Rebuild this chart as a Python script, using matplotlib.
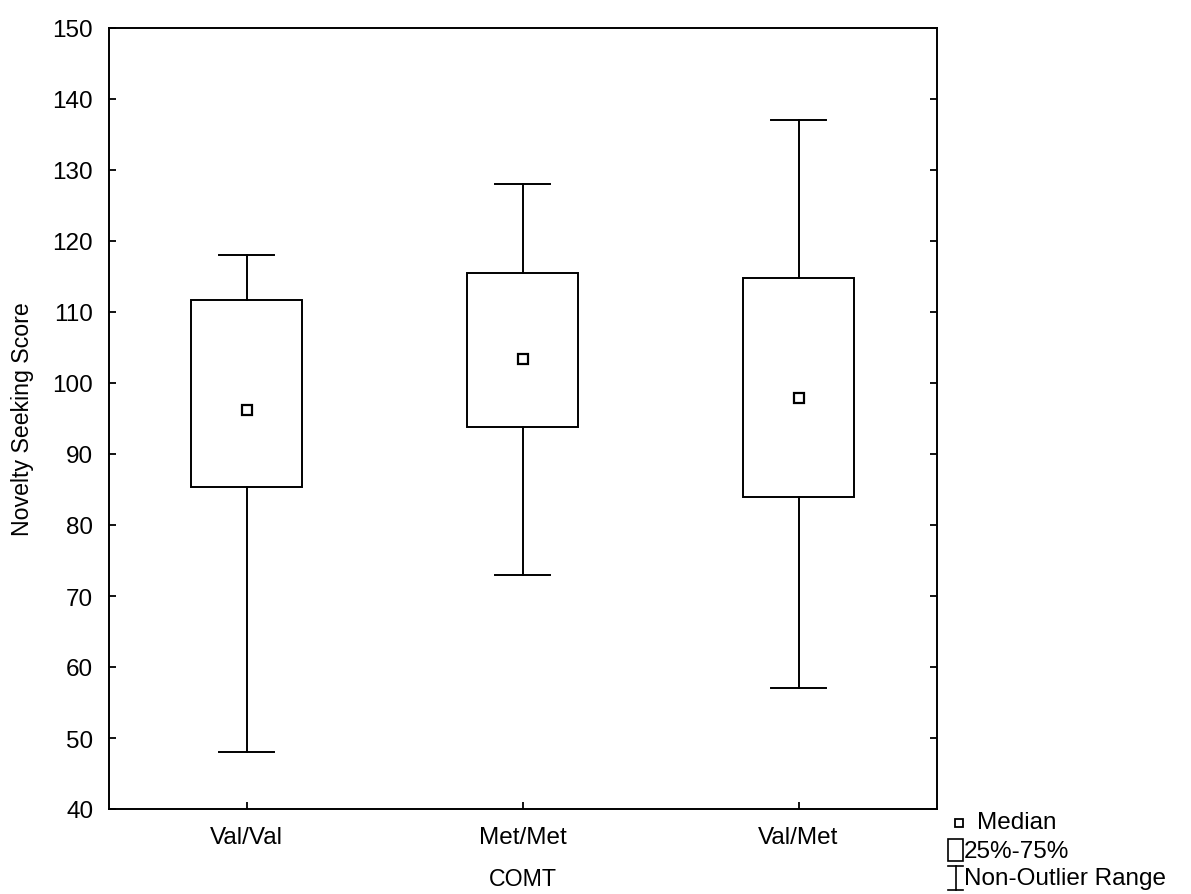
import matplotlib
matplotlib.use("Agg")
import matplotlib.pyplot as plt
from matplotlib.lines import Line2D
from matplotlib.patches import Rectangle

# Summary statistics per COMT genotype
groups = ["Val/Val", "Met/Met", "Val/Met"]
whisker_low = [48, 73, 57]
q1 = [85.4, 93.8, 83.9]
median = [96.2, 103.4, 97.9]
q3 = [111.7, 115.5, 114.8]
whisker_high = [118, 128, 137]

y_ticks = [40, 50, 60, 70, 80, 90, 100, 110, 120, 130, 140, 150]

plt.rcParams["font.family"] = ["Liberation Sans", "DejaVu Sans"]

W, H = 1191, 895
tick_fs = 17.5
label_fs = 16.7
legend_fs = 17.5

fig = plt.figure(figsize=(W / 100, H / 100), dpi=100)
ax = fig.add_axes([108.5 / W, 1 - 810 / H, (936.5 - 108.5) / W, (810 - 29) / H])

lw = 1.4
box_w = 0.4
cap_w = 0.2
for i, g in enumerate(groups):
    x = i + 1
    ax.add_patch(Rectangle((x - box_w / 2, q1[i]), box_w, q3[i] - q1[i],
                           facecolor="white", edgecolor="black", lw=lw, zorder=2))
    ax.plot([x, x], [q3[i], whisker_high[i]], color="black", lw=lw, zorder=2)
    ax.plot([x, x], [whisker_low[i], q1[i]], color="black", lw=lw, zorder=2)
    ax.plot([x - cap_w / 2, x + cap_w / 2], [whisker_high[i]] * 2, color="black", lw=lw, zorder=2)
    ax.plot([x - cap_w / 2, x + cap_w / 2], [whisker_low[i]] * 2, color="black", lw=lw, zorder=2)
    ax.plot([x], [median[i]], marker="s", ms=6.5, mfc="white", mec="black", mew=1.6,
            linestyle="none", zorder=3)

ax.set_xlim(0.5, 3.5)
ax.set_ylim(40, 150)
ax.set_xticks([1, 2, 3])
ax.set_xticklabels(groups)
ax.set_yticks(y_ticks)
ax.tick_params(axis="both", direction="in", length=5, width=1.3, labelsize=tick_fs,
               right=True, top=False)
ax.tick_params(axis="y", pad=11)
ax.tick_params(axis="x", pad=12)
for s in ax.spines.values():
    s.set_linewidth(1.4)
ax.set_xlabel("COMT", fontsize=label_fs, labelpad=14)
ax.set_ylabel("Novelty Seeking Score", fontsize=label_fs, labelpad=13)

# Legend drawn in figure pixel coordinates
def fx(px):
    return px / W

def fy(py):
    return 1 - py / H

fig.add_artist(Line2D([fx(958.5)], [fy(824)], marker="s", ms=5.5, mfc="white", mec="black",
                      mew=1.3, linestyle="none", transform=fig.transFigure))
fig.add_artist(Rectangle((fx(948), fy(862)), fx(963) - fx(948), fy(840) - fy(862),
                         facecolor="white", edgecolor="black", lw=1.2, transform=fig.transFigure))
fig.add_artist(Line2D([fx(948), fx(963)], [fy(867), fy(867)], color="black", lw=1.2,
                      transform=fig.transFigure))
fig.add_artist(Line2D([fx(948), fx(963)], [fy(891), fy(891)], color="black", lw=1.2,
                      transform=fig.transFigure))
fig.add_artist(Line2D([fx(955.5), fx(955.5)], [fy(867), fy(891)], color="black", lw=1.2,
                      transform=fig.transFigure))
fig.text(fx(977), fy(823), "Median", fontsize=legend_fs, va="center", ha="left")
fig.text(fx(964), fy(852), "25%-75%", fontsize=legend_fs, va="center", ha="left")
fig.text(fx(964), fy(879), "Non-Outlier Range", fontsize=legend_fs, va="center", ha="left")

fig.savefig("out.png", dpi=100, facecolor="white")
